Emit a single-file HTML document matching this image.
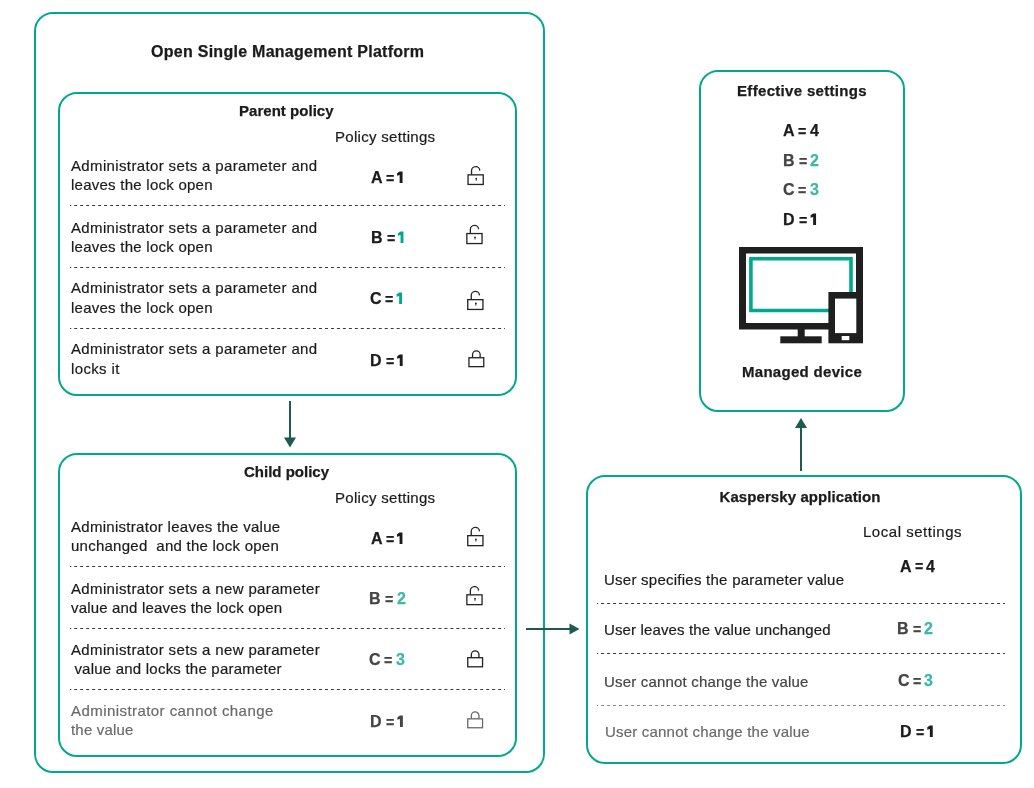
<!DOCTYPE html>
<html><head><meta charset="utf-8"><style>
html,body{margin:0;padding:0;background:#fff;}
body{width:1034px;height:788px;position:relative;overflow:hidden;font-family:"Liberation Sans",sans-serif;}
.t{position:absolute;white-space:pre;will-change:transform;-webkit-text-stroke:0.2px currentColor;}
.box{position:absolute;box-sizing:border-box;border:2px solid #00a88e;}
.dash{position:absolute;height:1px;}
.ov{position:absolute;left:0;top:0;}
</style></head><body>
<div class="box" style="left:34px;top:12px;width:511px;height:761px;border-radius:19px"></div>
<div class="box" style="left:58px;top:92px;width:459px;height:304px;border-radius:19px"></div>
<div class="box" style="left:58px;top:453px;width:459px;height:304px;border-radius:19px"></div>
<div class="box" style="left:699px;top:70px;width:206px;height:342px;border-radius:19px"></div>
<div class="box" style="left:586px;top:475px;width:436px;height:289px;border-radius:19px"></div>
<div class="t" style="top:44.16px;font-size:16px;line-height:16px;font-weight:bold;color:#1b1b1b;letter-spacing:0.27px;word-spacing:0px;left:151.00px;-webkit-text-stroke:0.25px currentColor;">Open Single Management Platform</div>
<div class="t" style="top:103.30px;font-size:15px;line-height:15px;font-weight:bold;color:#1b1b1b;letter-spacing:0.03px;word-spacing:0px;left:239.00px;-webkit-text-stroke:0.25px currentColor;">Parent policy</div>
<div class="t" style="top:129.10px;font-size:15px;line-height:15px;font-weight:normal;color:#1b1b1b;letter-spacing:0.3px;word-spacing:0px;left:334.80px;">Policy settings</div>
<div class="t" style="top:463.90px;font-size:15px;line-height:15px;font-weight:bold;color:#1b1b1b;letter-spacing:0.0px;word-spacing:0px;left:243.80px;-webkit-text-stroke:0.25px currentColor;">Child policy</div>
<div class="t" style="top:489.80px;font-size:15px;line-height:15px;font-weight:normal;color:#1b1b1b;letter-spacing:0.3px;word-spacing:0px;left:334.80px;">Policy settings</div>
<div class="t" style="top:158.10px;font-size:15px;line-height:15px;font-weight:normal;color:#1b1b1b;letter-spacing:0.36px;word-spacing:0px;left:70.50px;">Administrator sets a parameter and</div>
<div class="t" style="top:176.90px;font-size:15px;line-height:15px;font-weight:normal;color:#1b1b1b;letter-spacing:0.25px;word-spacing:0px;left:70.50px;">leaves the lock open</div>
<div class="t" style="top:219.90px;font-size:15px;line-height:15px;font-weight:normal;color:#1b1b1b;letter-spacing:0.36px;word-spacing:0px;left:70.50px;">Administrator sets a parameter and</div>
<div class="t" style="top:239.00px;font-size:15px;line-height:15px;font-weight:normal;color:#1b1b1b;letter-spacing:0.25px;word-spacing:0px;left:70.50px;">leaves the lock open</div>
<div class="t" style="top:280.30px;font-size:15px;line-height:15px;font-weight:normal;color:#1b1b1b;letter-spacing:0.36px;word-spacing:0px;left:70.50px;">Administrator sets a parameter and</div>
<div class="t" style="top:299.90px;font-size:15px;line-height:15px;font-weight:normal;color:#1b1b1b;letter-spacing:0.25px;word-spacing:0px;left:70.50px;">leaves the lock open</div>
<div class="t" style="top:341.20px;font-size:15px;line-height:15px;font-weight:normal;color:#1b1b1b;letter-spacing:0.36px;word-spacing:0px;left:70.50px;">Administrator sets a parameter and</div>
<div class="t" style="top:360.50px;font-size:15px;line-height:15px;font-weight:normal;color:#1b1b1b;letter-spacing:0.36px;word-spacing:0px;left:70.50px;">locks it</div>
<div class="t" style="top:518.50px;font-size:15px;line-height:15px;font-weight:normal;color:#1b1b1b;letter-spacing:0.285px;word-spacing:0px;left:70.50px;">Administrator leaves the value</div>
<div class="t" style="top:537.60px;font-size:15px;line-height:15px;font-weight:normal;color:#1b1b1b;letter-spacing:0.25px;word-spacing:0px;left:70.50px;">unchanged&nbsp; and the lock open</div>
<div class="t" style="top:580.50px;font-size:15px;line-height:15px;font-weight:normal;color:#1b1b1b;letter-spacing:0.36px;word-spacing:0px;left:70.50px;">Administrator sets a new parameter</div>
<div class="t" style="top:599.80px;font-size:15px;line-height:15px;font-weight:normal;color:#1b1b1b;letter-spacing:0.175px;word-spacing:0px;left:70.50px;">value and leaves the lock open</div>
<div class="t" style="top:641.60px;font-size:15px;line-height:15px;font-weight:normal;color:#1b1b1b;letter-spacing:0.36px;word-spacing:0px;left:70.50px;">Administrator sets a new parameter</div>
<div class="t" style="top:660.70px;font-size:15px;line-height:15px;font-weight:normal;color:#1b1b1b;letter-spacing:0.22px;word-spacing:0px;left:70.00px;">&nbsp;value and locks the parameter</div>
<div class="t" style="top:703.20px;font-size:15px;line-height:15px;font-weight:normal;color:#6a6a6a;letter-spacing:0.437px;word-spacing:0px;left:70.50px;">Administrator cannot change</div>
<div class="t" style="top:722.00px;font-size:15px;line-height:15px;font-weight:normal;color:#6a6a6a;letter-spacing:0.185px;word-spacing:0px;left:70.50px;">the value</div>
<div class="t" style="top:83.20px;font-size:15px;line-height:15px;font-weight:bold;color:#1b1b1b;letter-spacing:0.32px;word-spacing:0px;left:602.00px;width:400px;text-align:center;-webkit-text-stroke:0.25px currentColor;">Effective settings</div>
<div class="t" style="top:364.30px;font-size:15px;line-height:15px;font-weight:bold;color:#1b1b1b;letter-spacing:0.3px;word-spacing:0px;left:602.00px;width:400px;text-align:center;-webkit-text-stroke:0.25px currentColor;">Managed device</div>
<div class="t" style="top:488.50px;font-size:15px;line-height:15px;font-weight:bold;color:#1b1b1b;letter-spacing:0.08px;word-spacing:0px;left:600.00px;width:400px;text-align:center;-webkit-text-stroke:0.25px currentColor;">Kaspersky application</div>
<div class="t" style="top:524.10px;font-size:15px;line-height:15px;font-weight:normal;color:#1b1b1b;letter-spacing:0.53px;word-spacing:0px;left:862.70px;">Local settings</div>
<div class="t" style="top:572.30px;font-size:15px;line-height:15px;font-weight:normal;color:#1b1b1b;letter-spacing:0.25px;word-spacing:0px;left:604.30px;">User specifies the parameter value</div>
<div class="t" style="top:622.30px;font-size:15px;line-height:15px;font-weight:normal;color:#1b1b1b;letter-spacing:0.13px;word-spacing:0px;left:603.50px;">User leaves the value unchanged</div>
<div class="t" style="top:674.10px;font-size:15px;line-height:15px;font-weight:normal;color:#444;letter-spacing:0.19px;word-spacing:0px;left:603.50px;">User cannot change the value</div>
<div class="t" style="top:723.90px;font-size:15px;line-height:15px;font-weight:normal;color:#6a6a6a;letter-spacing:0.2px;word-spacing:0px;left:604.50px;">User cannot change the value</div>
<div class="t" style="top:169.81px;font-size:16px;line-height:16px;font-weight:bold;color:#1b1b1b;letter-spacing:0.0px;word-spacing:0px;left:370.90px;-webkit-text-stroke:0.25px currentColor;">A</div>
<div class="t" style="top:170.71px;left:385.60px;font-size:16px;line-height:16px;font-weight:bold;color:#1b1b1b;transform:scaleX(0.88);transform-origin:0 0;-webkit-text-stroke:0.25px currentColor;">=</div>
<div class="t" style="top:230.06px;font-size:16px;line-height:16px;font-weight:bold;color:#1b1b1b;letter-spacing:0.0px;word-spacing:0px;left:370.80px;-webkit-text-stroke:0.25px currentColor;">B</div>
<div class="t" style="top:230.96px;left:386.50px;font-size:16px;line-height:16px;font-weight:bold;color:#1b1b1b;transform:scaleX(0.88);transform-origin:0 0;-webkit-text-stroke:0.25px currentColor;">=</div>
<div class="t" style="top:291.06px;font-size:16px;line-height:16px;font-weight:bold;color:#1b1b1b;letter-spacing:0.0px;word-spacing:0px;left:370.40px;-webkit-text-stroke:0.25px currentColor;">C</div>
<div class="t" style="top:291.96px;left:385.10px;font-size:16px;line-height:16px;font-weight:bold;color:#1b1b1b;transform:scaleX(0.88);transform-origin:0 0;-webkit-text-stroke:0.25px currentColor;">=</div>
<div class="t" style="top:353.06px;font-size:16px;line-height:16px;font-weight:bold;color:#1b1b1b;letter-spacing:0.0px;word-spacing:0px;left:370.00px;-webkit-text-stroke:0.25px currentColor;">D</div>
<div class="t" style="top:353.96px;left:385.70px;font-size:16px;line-height:16px;font-weight:bold;color:#1b1b1b;transform:scaleX(0.88);transform-origin:0 0;-webkit-text-stroke:0.25px currentColor;">=</div>
<div class="t" style="top:531.06px;font-size:16px;line-height:16px;font-weight:bold;color:#1b1b1b;letter-spacing:0.0px;word-spacing:0px;left:370.80px;-webkit-text-stroke:0.25px currentColor;">A</div>
<div class="t" style="top:531.96px;left:385.50px;font-size:16px;line-height:16px;font-weight:bold;color:#1b1b1b;transform:scaleX(0.88);transform-origin:0 0;-webkit-text-stroke:0.25px currentColor;">=</div>
<div class="t" style="top:591.06px;font-size:16px;line-height:16px;font-weight:bold;color:#454545;letter-spacing:0.0px;word-spacing:0px;left:369.20px;-webkit-text-stroke:0.25px currentColor;">B</div>
<div class="t" style="top:591.96px;left:384.90px;font-size:16px;line-height:16px;font-weight:bold;color:#454545;transform:scaleX(0.88);transform-origin:0 0;-webkit-text-stroke:0.25px currentColor;">=</div>
<div class="t" style="top:591.06px;font-size:16px;line-height:16px;font-weight:bold;color:#3cb9a2;letter-spacing:0.0px;word-spacing:0px;left:396.60px;-webkit-text-stroke:0.25px currentColor;">2</div>
<div class="t" style="top:652.06px;font-size:16px;line-height:16px;font-weight:bold;color:#454545;letter-spacing:0.0px;word-spacing:0px;left:369.10px;-webkit-text-stroke:0.25px currentColor;">C</div>
<div class="t" style="top:652.96px;left:383.80px;font-size:16px;line-height:16px;font-weight:bold;color:#454545;transform:scaleX(0.88);transform-origin:0 0;-webkit-text-stroke:0.25px currentColor;">=</div>
<div class="t" style="top:652.06px;font-size:16px;line-height:16px;font-weight:bold;color:#3cb9a2;letter-spacing:0.0px;word-spacing:0px;left:395.50px;-webkit-text-stroke:0.25px currentColor;">3</div>
<div class="t" style="top:714.06px;font-size:16px;line-height:16px;font-weight:bold;color:#454545;letter-spacing:0.0px;word-spacing:0px;left:370.20px;-webkit-text-stroke:0.25px currentColor;">D</div>
<div class="t" style="top:714.96px;left:385.90px;font-size:16px;line-height:16px;font-weight:bold;color:#454545;transform:scaleX(0.88);transform-origin:0 0;-webkit-text-stroke:0.25px currentColor;">=</div>
<div class="t" style="top:123.36px;font-size:16px;line-height:16px;font-weight:bold;color:#1b1b1b;letter-spacing:0.0px;word-spacing:0px;left:783.10px;-webkit-text-stroke:0.25px currentColor;">A</div>
<div class="t" style="top:124.26px;left:797.80px;font-size:16px;line-height:16px;font-weight:bold;color:#1b1b1b;transform:scaleX(0.88);transform-origin:0 0;-webkit-text-stroke:0.25px currentColor;">=</div>
<div class="t" style="top:123.36px;font-size:16px;line-height:16px;font-weight:bold;color:#1b1b1b;letter-spacing:0.0px;word-spacing:0px;left:809.50px;-webkit-text-stroke:0.25px currentColor;">4</div>
<div class="t" style="top:152.76px;font-size:16px;line-height:16px;font-weight:bold;color:#454545;letter-spacing:0.0px;word-spacing:0px;left:782.80px;-webkit-text-stroke:0.25px currentColor;">B</div>
<div class="t" style="top:153.66px;left:798.50px;font-size:16px;line-height:16px;font-weight:bold;color:#454545;transform:scaleX(0.88);transform-origin:0 0;-webkit-text-stroke:0.25px currentColor;">=</div>
<div class="t" style="top:152.76px;font-size:16px;line-height:16px;font-weight:bold;color:#3cb9a2;letter-spacing:0.0px;word-spacing:0px;left:810.20px;-webkit-text-stroke:0.25px currentColor;">2</div>
<div class="t" style="top:182.26px;font-size:16px;line-height:16px;font-weight:bold;color:#454545;letter-spacing:0.0px;word-spacing:0px;left:783.20px;-webkit-text-stroke:0.25px currentColor;">C</div>
<div class="t" style="top:183.16px;left:797.90px;font-size:16px;line-height:16px;font-weight:bold;color:#454545;transform:scaleX(0.88);transform-origin:0 0;-webkit-text-stroke:0.25px currentColor;">=</div>
<div class="t" style="top:182.26px;font-size:16px;line-height:16px;font-weight:bold;color:#3cb9a2;letter-spacing:0.0px;word-spacing:0px;left:809.60px;-webkit-text-stroke:0.25px currentColor;">3</div>
<div class="t" style="top:211.86px;font-size:16px;line-height:16px;font-weight:bold;color:#1b1b1b;letter-spacing:0.0px;word-spacing:0px;left:783.40px;-webkit-text-stroke:0.25px currentColor;">D</div>
<div class="t" style="top:212.76px;left:799.10px;font-size:16px;line-height:16px;font-weight:bold;color:#1b1b1b;transform:scaleX(0.88);transform-origin:0 0;-webkit-text-stroke:0.25px currentColor;">=</div>
<div class="t" style="top:558.56px;font-size:16px;line-height:16px;font-weight:bold;color:#1b1b1b;letter-spacing:0.0px;word-spacing:0px;left:899.90px;-webkit-text-stroke:0.25px currentColor;">A</div>
<div class="t" style="top:559.46px;left:914.60px;font-size:16px;line-height:16px;font-weight:bold;color:#1b1b1b;transform:scaleX(0.88);transform-origin:0 0;-webkit-text-stroke:0.25px currentColor;">=</div>
<div class="t" style="top:558.56px;font-size:16px;line-height:16px;font-weight:bold;color:#1b1b1b;letter-spacing:0.0px;word-spacing:0px;left:926.30px;-webkit-text-stroke:0.25px currentColor;">4</div>
<div class="t" style="top:621.06px;font-size:16px;line-height:16px;font-weight:bold;color:#454545;letter-spacing:0.0px;word-spacing:0px;left:897.00px;-webkit-text-stroke:0.25px currentColor;">B</div>
<div class="t" style="top:621.96px;left:912.70px;font-size:16px;line-height:16px;font-weight:bold;color:#454545;transform:scaleX(0.88);transform-origin:0 0;-webkit-text-stroke:0.25px currentColor;">=</div>
<div class="t" style="top:621.06px;font-size:16px;line-height:16px;font-weight:bold;color:#3cb9a2;letter-spacing:0.0px;word-spacing:0px;left:924.40px;-webkit-text-stroke:0.25px currentColor;">2</div>
<div class="t" style="top:672.86px;font-size:16px;line-height:16px;font-weight:bold;color:#454545;letter-spacing:0.0px;word-spacing:0px;left:898.00px;-webkit-text-stroke:0.25px currentColor;">C</div>
<div class="t" style="top:673.76px;left:912.70px;font-size:16px;line-height:16px;font-weight:bold;color:#454545;transform:scaleX(0.88);transform-origin:0 0;-webkit-text-stroke:0.25px currentColor;">=</div>
<div class="t" style="top:672.86px;font-size:16px;line-height:16px;font-weight:bold;color:#3cb9a2;letter-spacing:0.0px;word-spacing:0px;left:924.40px;-webkit-text-stroke:0.25px currentColor;">3</div>
<div class="t" style="top:723.66px;font-size:16px;line-height:16px;font-weight:bold;color:#1b1b1b;letter-spacing:0.0px;word-spacing:0px;left:900.10px;-webkit-text-stroke:0.25px currentColor;">D</div>
<div class="t" style="top:724.56px;left:915.80px;font-size:16px;line-height:16px;font-weight:bold;color:#1b1b1b;transform:scaleX(0.88);transform-origin:0 0;-webkit-text-stroke:0.25px currentColor;">=</div>
<svg class="ov" width="1034" height="788" viewBox="0 0 1034 788">
<!-- arrows -->
<line x1="290" y1="401" x2="290" y2="439" stroke="#1f5a51" stroke-width="2"/>
<polygon points="284,437.5 296,437.5 290,447.5" fill="#1f5a51"/>
<line x1="526" y1="629" x2="571" y2="629" stroke="#1f5a51" stroke-width="2"/>
<polygon points="569.5,623.5 569.5,634.5 579.5,629" fill="#1f5a51"/>
<line x1="801" y1="471" x2="801" y2="426" stroke="#1f5a51" stroke-width="2"/>
<polygon points="795,428 807,428 801,418" fill="#1f5a51"/>
<g fill="none" stroke="#222" stroke-width="1.3">
<rect x="468.04999999999995" y="174.85" width="15.2" height="9.6"/>
<path d="M471.54999999999995 174.79999999999998 V171.0 A4.15 4.15 0 0 1 479.84999999999997 170.6"/>
</g><circle cx="476.2" cy="178.6" r="0.9" fill="#222"/><rect x="475.79999999999995" y="178.79999999999998" width="0.8" height="2.1" fill="#222"/><g fill="none" stroke="#222" stroke-width="1.3">
<rect x="466.84999999999997" y="233.55" width="15.2" height="10"/>
<path d="M470.34999999999997 233.5 V229.70000000000002 A4.15 4.15 0 0 1 478.65 229.3"/>
</g><circle cx="475.0" cy="237.3" r="0.9" fill="#222"/><rect x="474.59999999999997" y="237.5" width="0.8" height="2.1" fill="#222"/><g fill="none" stroke="#222" stroke-width="1.3">
<rect x="467.75" y="299.65" width="15.2" height="9.8"/>
<path d="M471.25 299.6 V295.8 A4.15 4.15 0 0 1 479.55 295.4"/>
</g><circle cx="475.90000000000003" cy="303.4" r="0.9" fill="#222"/><rect x="475.5" y="303.6" width="0.8" height="2.1" fill="#222"/><g fill="none" stroke="#222" stroke-width="1.3">
<rect x="468.95" y="357.75" width="14.8" height="8.9"/>
<path d="M472.55 357.70000000000005 V354.65000000000003 A3.8 3.8 0 0 1 480.15000000000003 354.65000000000003 V357.70000000000005"/>
</g><g fill="none" stroke="#222" stroke-width="1.3">
<rect x="467.75" y="535.65" width="15.2" height="10"/>
<path d="M471.25 535.6 V531.8 A4.15 4.15 0 0 1 479.55 531.4"/>
</g><circle cx="475.90000000000003" cy="539.4" r="0.9" fill="#222"/><rect x="475.5" y="539.6" width="0.8" height="2.1" fill="#222"/><g fill="none" stroke="#222" stroke-width="1.3">
<rect x="466.84999999999997" y="594.85" width="15.2" height="9.8"/>
<path d="M470.34999999999997 594.8000000000001 V591.0 A4.15 4.15 0 0 1 478.65 590.6"/>
</g><circle cx="475.0" cy="598.6" r="0.9" fill="#222"/><rect x="474.59999999999997" y="598.8000000000001" width="0.8" height="2.1" fill="#222"/><g fill="none" stroke="#222" stroke-width="1.3">
<rect x="467.75" y="657.6999999999999" width="14.8" height="9.1"/>
<path d="M471.35 657.65 V654.5999999999999 A3.8 3.8 0 0 1 478.95000000000005 654.5999999999999 V657.65"/>
</g><g fill="none" stroke="#6a6a6a" stroke-width="1.3">
<rect x="467.75" y="718.85" width="14.8" height="8.9"/>
<path d="M471.35 718.8000000000001 V715.75 A3.8 3.8 0 0 1 478.95000000000005 715.75 V718.8000000000001"/>
</g><path fill="#1f1f1f" fill-rule="evenodd" d="M739 247 H863 V329.5 H739 Z M746 253.5 V323 H856 V253.5 Z"/>
<path fill="none" stroke="#00a88e" stroke-width="3.6" d="M750.9 258.8 H851 V310.5 H750.9 Z"/>
<rect x="797.7" y="329" width="7" height="8" fill="#1f1f1f"/>
<rect x="780.3" y="336.3" width="41.4" height="7" fill="#1f1f1f"/>
<rect x="828.4" y="292" width="34.6" height="51.3" fill="#1f1f1f"/>
<rect x="835" y="298.6" width="21.3" height="34.5" fill="#fff"/>
<rect x="841.7" y="336" width="7.6" height="4.2" fill="#fff"/>
<line x1="70" y1="205.5" x2="505" y2="205.5" stroke="#3a3a3a" stroke-width="1" stroke-dasharray="3 2.971" stroke-dashoffset="1.770"/>
<line x1="70" y1="267.5" x2="505" y2="267.5" stroke="#3a3a3a" stroke-width="1" stroke-dasharray="3 2.971" stroke-dashoffset="1.770"/>
<line x1="70" y1="328.5" x2="505" y2="328.5" stroke="#3a3a3a" stroke-width="1" stroke-dasharray="3 2.971" stroke-dashoffset="1.770"/>
<line x1="70" y1="566.5" x2="505" y2="566.5" stroke="#3a3a3a" stroke-width="1" stroke-dasharray="3 2.971" stroke-dashoffset="1.770"/>
<line x1="70" y1="628.5" x2="505" y2="628.5" stroke="#3a3a3a" stroke-width="1" stroke-dasharray="3 2.971" stroke-dashoffset="1.770"/>
<line x1="70" y1="689.5" x2="505" y2="689.5" stroke="#3a3a3a" stroke-width="1" stroke-dasharray="3 2.971" stroke-dashoffset="1.770"/>
<line x1="597" y1="603.5" x2="1005" y2="603.5" stroke="#3a3a3a" stroke-width="1" stroke-dasharray="3 3.000" stroke-dashoffset="1.900"/>
<line x1="597" y1="653.5" x2="1005" y2="653.5" stroke="#3a3a3a" stroke-width="1" stroke-dasharray="3 3.000" stroke-dashoffset="1.900"/>
<line x1="597" y1="705.5" x2="1005" y2="705.5" stroke="#888" stroke-width="1" stroke-dasharray="3 3.000" stroke-dashoffset="1.900"/><path fill="#1b1b1b" d="M399.65 171.60 H402.55 V183.00 H399.65 V175.00 L397.10 175.80 V173.30 Z"/>
<path fill="#00a88e" d="M400.55 231.60 H403.45 V243.00 H400.55 V235.00 L398.00 235.80 V233.30 Z"/>
<path fill="#00a88e" d="M399.15 292.60 H402.05 V304.00 H399.15 V296.00 L396.60 296.80 V294.30 Z"/>
<path fill="#1b1b1b" d="M399.75 354.60 H402.65 V366.00 H399.75 V358.00 L397.20 358.80 V356.30 Z"/>
<path fill="#1b1b1b" d="M399.55 532.60 H402.45 V544.00 H399.55 V536.00 L397.00 536.80 V534.30 Z"/>
<path fill="#454545" d="M399.95 715.60 H402.85 V727.00 H399.95 V719.00 L397.40 719.80 V717.30 Z"/>
<path fill="#1b1b1b" d="M813.15 213.60 H816.05 V225.00 H813.15 V217.00 L810.60 217.80 V215.30 Z"/>
<path fill="#1b1b1b" d="M929.85 725.60 H932.75 V737.00 H929.85 V729.00 L927.30 729.80 V727.30 Z"/></svg>
</body></html>
